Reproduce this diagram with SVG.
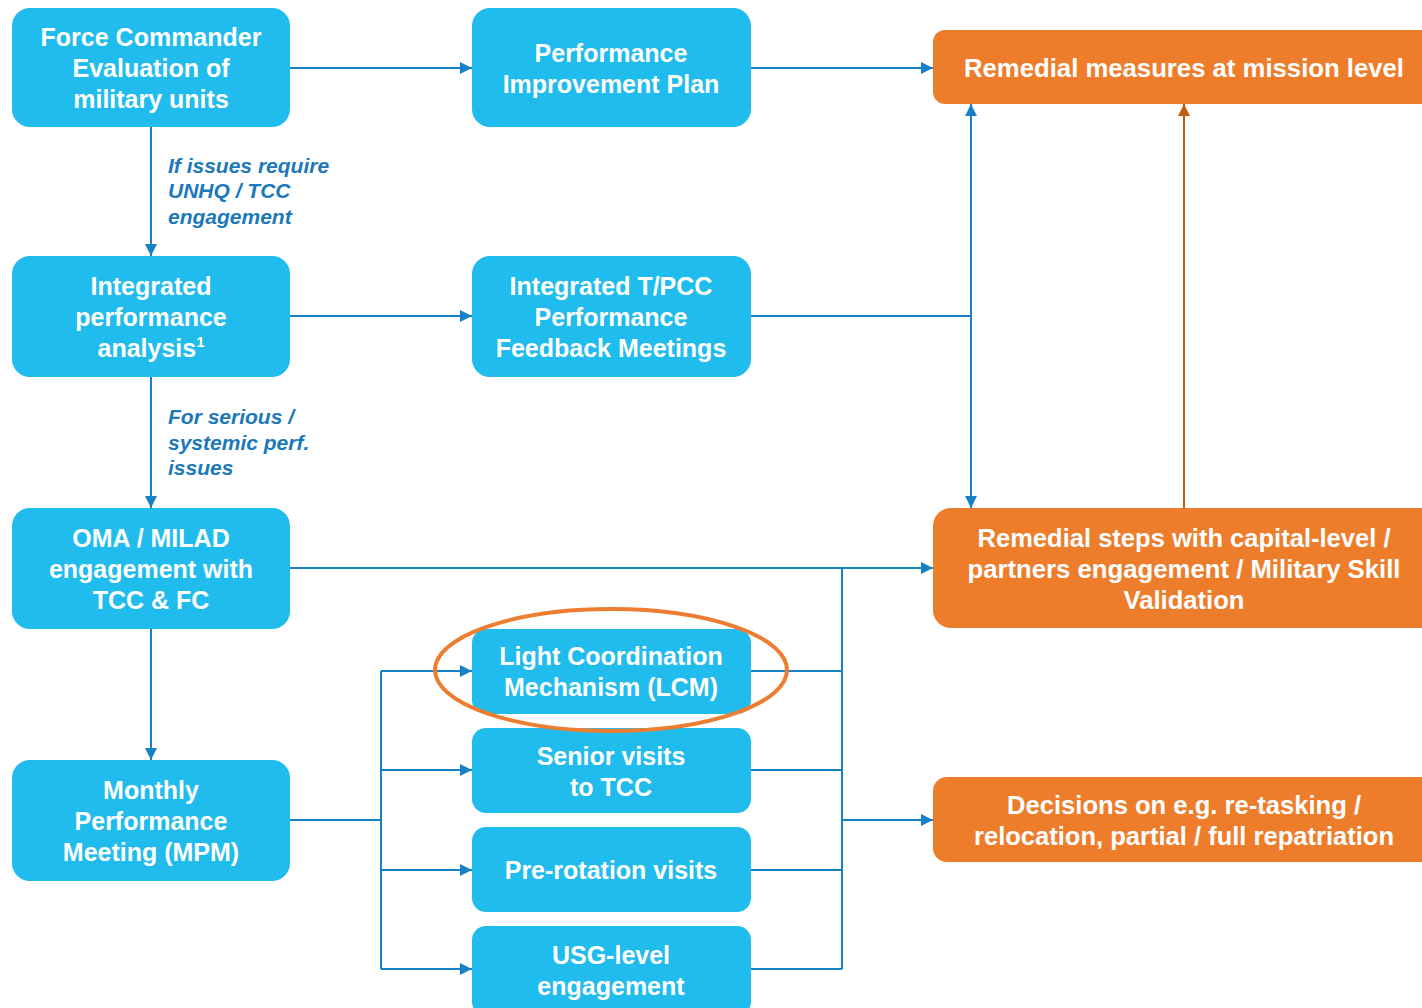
<svg xmlns="http://www.w3.org/2000/svg" width="1422" height="1008" viewBox="0 0 1422 1008">
<defs>
<style>
.bb{fill:#20bcee}
.ob{fill:#ee7d2b}
.t{font-family:"Liberation Sans",Arial,sans-serif;font-weight:bold;font-size:25px;fill:#ffffff;text-anchor:middle}
.to{font-family:"Liberation Sans",Arial,sans-serif;font-weight:bold;font-size:26px;fill:#ffffff;text-anchor:middle}
.lbl{font-family:"Liberation Sans",Arial,sans-serif;font-weight:bold;font-style:italic;font-size:21px;fill:#1b79bb}
.c{fill:none;stroke:#1681c4;stroke-width:2}
.co{fill:none;stroke:#c55a11;stroke-width:2}
</style>
<marker id="ah" markerUnits="userSpaceOnUse" markerWidth="12" markerHeight="12" refX="12" refY="6" orient="auto"><path d="M0,0 L12,6 L0,12 z" fill="#1681c4"/></marker>
<marker id="aho" markerUnits="userSpaceOnUse" markerWidth="12" markerHeight="12" refX="12" refY="6" orient="auto"><path d="M0,0 L12,6 L0,12 z" fill="#c55a11"/></marker>
</defs>
<rect width="1422" height="1008" fill="#ffffff"/>

<g id="connectors">
<path class="c" d="M290,68 H472" marker-end="url(#ah)"/>
<path class="c" d="M751,68 H933" marker-end="url(#ah)"/>
<path class="c" d="M151,127 V256" marker-end="url(#ah)"/>
<path class="c" d="M290,316 H472" marker-end="url(#ah)"/>
<path class="c" d="M751,316 H971"/>
<path class="c" d="M971,316 V104" marker-end="url(#ah)"/>
<path class="c" d="M971,316 V508" marker-end="url(#ah)"/>
<path class="c" d="M151,377 V508" marker-end="url(#ah)"/>
<path class="c" d="M290,568 H933" marker-end="url(#ah)"/>
<path class="c" d="M151,629 V760" marker-end="url(#ah)"/>
<path class="c" d="M290,820 H381"/>
<path class="c" d="M381,671 V969"/>
<path class="c" d="M381,671 H472" marker-end="url(#ah)"/>
<path class="c" d="M381,770 H472" marker-end="url(#ah)"/>
<path class="c" d="M381,870 H472" marker-end="url(#ah)"/>
<path class="c" d="M381,969 H472" marker-end="url(#ah)"/>
<path class="c" d="M751,671 H842"/>
<path class="c" d="M751,770 H842"/>
<path class="c" d="M751,870 H842"/>
<path class="c" d="M751,969 H842"/>
<path class="c" d="M842,568 V969"/>
<path class="c" d="M842,820 H933" marker-end="url(#ah)"/>
<path class="co" d="M1184,508 V104" marker-end="url(#aho)"/>
</g>

<g id="labels">
<text class="lbl" x="168" y="173">If issues require</text>
<text class="lbl" x="168" y="198">UNHQ / TCC</text>
<text class="lbl" x="168" y="224">engagement</text>
<text class="lbl" x="168" y="424">For serious /</text>
<text class="lbl" x="168" y="450">systemic perf.</text>
<text class="lbl" x="168" y="475">issues</text>
</g>

<g id="fc-eval">
<rect class="bb" x="12" y="8" width="278" height="119" rx="18"/>
<text class="t" x="151" y="46">Force Commander</text>
<text class="t" x="151" y="77">Evaluation of</text>
<text class="t" x="151" y="108">military units</text>
</g>

<g id="pip">
<rect class="bb" x="472" y="8" width="279" height="119" rx="18"/>
<text class="t" x="611" y="62">Performance</text>
<text class="t" x="611" y="93">Improvement Plan</text>
</g>

<g id="remedial-mission">
<rect class="ob" x="933" y="30" width="510" height="74" rx="12"/>
<text class="to" x="1184" y="77" textLength="440" lengthAdjust="spacingAndGlyphs">Remedial measures at mission level</text>
</g>

<g id="ipa">
<rect class="bb" x="12" y="256" width="278" height="121" rx="18"/>
<text class="t" x="151" y="295">Integrated</text>
<text class="t" x="151" y="326">performance</text>
<text class="t" x="151" y="357">analysis<tspan font-size="15" dy="-10">1</tspan></text>
</g>

<g id="tpcc">
<rect class="bb" x="472" y="256" width="279" height="121" rx="18"/>
<text class="t" x="611" y="295">Integrated T/PCC</text>
<text class="t" x="611" y="326">Performance</text>
<text class="t" x="611" y="357">Feedback Meetings</text>
</g>

<g id="oma">
<rect class="bb" x="12" y="508" width="278" height="121" rx="18"/>
<text class="t" x="151" y="547">OMA / MILAD</text>
<text class="t" x="151" y="578">engagement with</text>
<text class="t" x="151" y="609">TCC &amp; FC</text>
</g>

<g id="remedial-steps">
<rect class="ob" x="933" y="508" width="510" height="120" rx="18"/>
<text class="to" x="1184" y="547" textLength="413" lengthAdjust="spacingAndGlyphs">Remedial steps with capital-level /</text>
<text class="to" x="1184" y="578" textLength="433" lengthAdjust="spacingAndGlyphs">partners engagement / Military Skill</text>
<text class="to" x="1184" y="609" textLength="121" lengthAdjust="spacingAndGlyphs">Validation</text>
</g>

<g id="mpm">
<rect class="bb" x="12" y="760" width="278" height="121" rx="18"/>
<text class="t" x="151" y="799">Monthly</text>
<text class="t" x="151" y="830">Performance</text>
<text class="t" x="151" y="861">Meeting (MPM)</text>
</g>

<g id="lcm">
<rect class="bb" x="472" y="629" width="279" height="85" rx="14"/>
<text class="t" x="611" y="665">Light Coordination</text>
<text class="t" x="611" y="696">Mechanism (LCM)</text>
</g>

<g id="senior">
<rect class="bb" x="472" y="728" width="279" height="85" rx="14"/>
<text class="t" x="611" y="765">Senior visits</text>
<text class="t" x="611" y="796">to TCC</text>
</g>

<g id="prerot">
<rect class="bb" x="472" y="827" width="279" height="85" rx="14"/>
<text class="t" x="611" y="879">Pre-rotation visits</text>
</g>

<g id="usg">
<rect class="bb" x="472" y="926" width="279" height="90" rx="14"/>
<text class="t" x="611" y="964">USG-level</text>
<text class="t" x="611" y="995">engagement</text>
</g>

<g id="decisions">
<rect class="ob" x="933" y="777" width="510" height="85" rx="14"/>
<text class="to" x="1184" y="814" textLength="354" lengthAdjust="spacingAndGlyphs">Decisions on e.g. re-tasking /</text>
<text class="to" x="1184" y="845" textLength="420" lengthAdjust="spacingAndGlyphs">relocation, partial / full repatriation</text>
</g>

<g id="highlight">
<ellipse cx="611" cy="670" rx="176" ry="61" fill="none" stroke="#ed7d31" stroke-width="4"/>
</g>
</svg>
